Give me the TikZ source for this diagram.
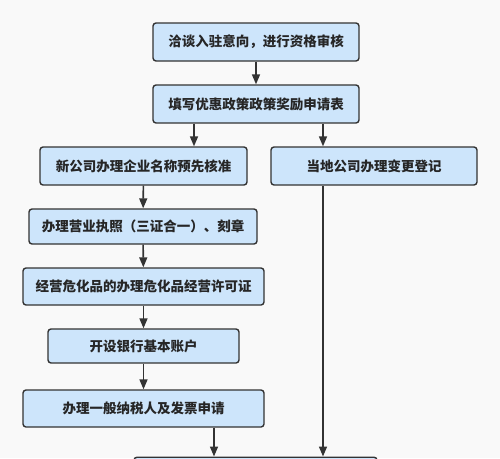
\documentclass[tikz,border=0pt]{standalone}
\usepackage{fontspec}
\newfontfamily\cjk{Noto Sans CJK SC}
\usetikzlibrary{arrows.meta}
\definecolor{bg}{HTML}{F9F9F9}
\definecolor{boxfill}{HTML}{CDE5FB}
\definecolor{edge}{HTML}{333333}
\tikzset{
  stepbox/.style={draw=edge, fill=boxfill, line width=1.4pt, rounded corners=3pt,
    inner sep=0pt, font=\cjk\bfseries\fontsize{13.5pt}{16pt}\selectfont, text=black!85},
  arr/.style={draw=edge, line width=1.6pt, -{Triangle[length=10pt,width=8pt]}},
  ln/.style={draw=edge, line width=1.6pt}
}
\begin{document}
\begin{tikzpicture}[x=1pt,y=-1pt]
\fill[bg] (0,0) rectangle (500,458);
\useasboundingbox (0,0) rectangle (500,458);
\node[stepbox, minimum width=206pt, minimum height=38pt] (b1) at (256,42) {洽谈入驻意向，进行资格审核};
\node[stepbox, minimum width=206pt, minimum height=38pt] (b2) at (256,104) {填写优惠政策政策奖励申请表};
\node[stepbox, minimum width=207pt, minimum height=38pt] (b3) at (143.5,166) {新公司办理企业名称预先核准};
\node[stepbox, minimum width=206pt, minimum height=38pt] (b4) at (374,166) {当地公司办理变更登记};
\node[stepbox, minimum width=228pt, minimum height=35pt] (b5) at (143,226.5) {办理营业执照（三证合一）、刻章};
\node[stepbox, minimum width=241pt, minimum height=37pt] (b6) at (143.5,286.5) {经营危化品的办理危化品经营许可证};
\node[stepbox, minimum width=191pt, minimum height=34pt] (b7) at (143.5,346) {开设银行基本账户};
\node[stepbox, minimum width=241pt, minimum height=37pt] (b8) at (143.5,408.5) {办理一般纳税人及发票申请};
\begin{scope}
\clip (0,0) rectangle (500,458);
\node[stepbox, minimum width=243pt, minimum height=40pt, anchor=north] (b9) at (255.5,456.5) {};
\end{scope}
\coordinate (xa) at (194,0);
\coordinate (xb) at (323,0);
\coordinate (xc) at (214,0);
\draw[arr] (b1) -- (b2);
\draw[arr] (b2.south -| xa) -- (b3.north -| xa);
\draw[arr] (b2.south -| xb) -- (b4.north -| xb);
\draw[arr] (b3) -- (b5);
\draw[arr] (b5) -- (b6);
\draw[arr] (b6) -- (b7);
\draw[arr] (b7) -- (b8);
\draw[arr] (b8.south -| xc) -- (b9.north -| xc);
\draw[arr] (b4.south -| xb) -- (b9.north -| xb);
\end{tikzpicture}
\end{document}
